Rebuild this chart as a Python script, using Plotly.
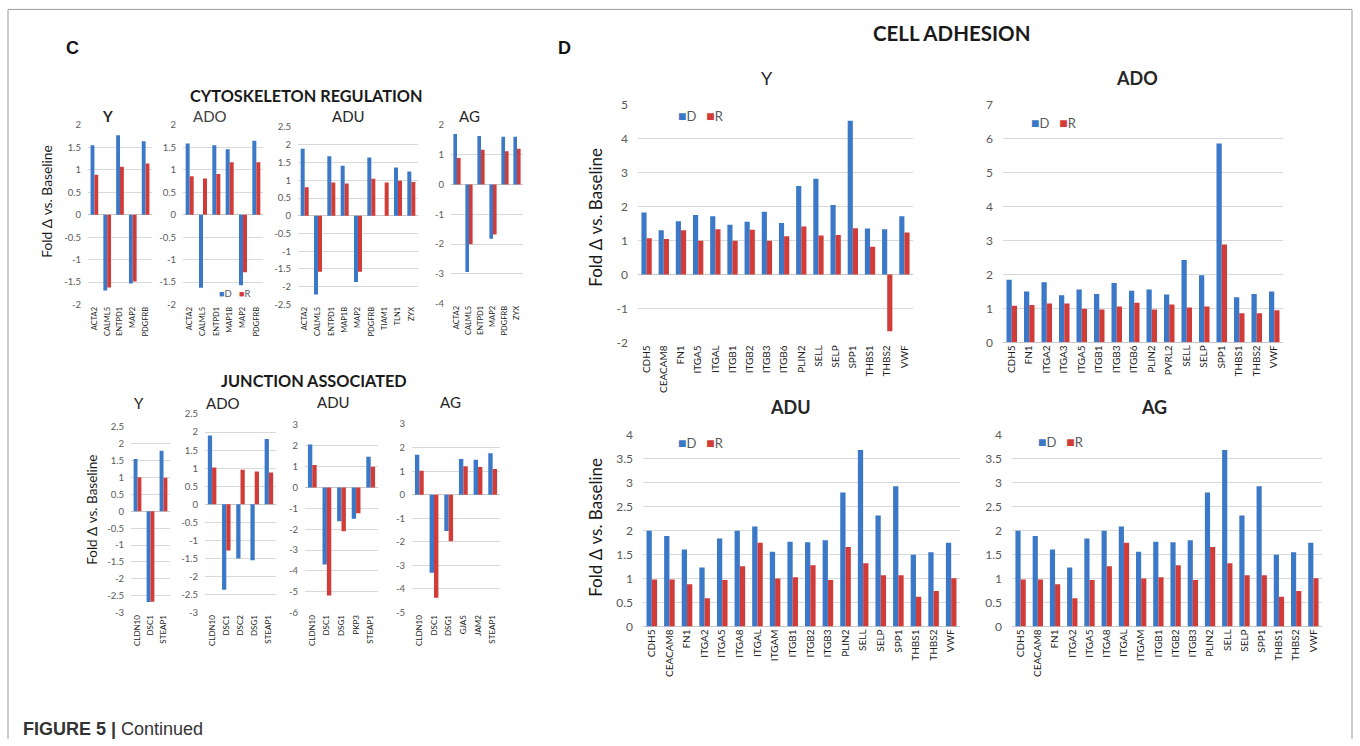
import plotly.graph_objects as go

W, H = 1360, 746
BLUE = "#3b78c8"
RED = "#d13c38"
FONT = "Lato, Carlito, Calibri, sans-serif"
ARIAL = "Liberation Sans, Arial, sans-serif"

# vertical calibration of the photographed page (measured on previous renders)
SY, OY = 0.983, 6.7


def Y(y):
    return y / SY - OY


# ---------------- Panel C: Cytoskeleton regulation ----------------
cyto_y_genes = ["ACTA2", "CALML5", "ENTPD1", "MAP2", "PDGFRB"]
cyto_y_D = [1.55, -1.69, 1.77, -1.53, 1.64]
cyto_y_R = [0.89, -1.62, 1.07, -1.49, 1.14]
cyto_y_ticks = [-2, -1.5, -1, -0.5, 0, 0.5, 1, 1.5, 2]

cyto_ado_genes = ["ACTA2", "CALML5", "ENTPD1", "MAP1B", "MAP2", "PDGFRB"]
cyto_ado_D = [1.59, -1.63, 1.55, 1.46, -1.57, 1.65]
cyto_ado_R = [0.86, 0.81, 0.91, 1.17, -1.28, 1.17]
cyto_ado_ticks = [-2, -1.5, -1, -0.5, 0, 0.5, 1, 1.5, 2]

cyto_adu_genes = ["ACTA2", "CALML5", "ENTPD1", "MAP1B", "MAP2", "PDGFRB", "TIAM1", "TLN1", "ZYX"]
cyto_adu_D = [1.89, -2.22, 1.68, 1.41, -1.87, 1.64, None, 1.36, 1.25]
cyto_adu_R = [0.80, -1.58, 0.94, 0.91, -1.58, 1.04, 0.94, 0.99, 0.95]
cyto_adu_ticks = [-2.5, -2, -1.5, -1, -0.5, 0, 0.5, 1, 1.5, 2, 2.5]

cyto_ag_genes = ["ACTA2", "CALML5", "ENTPD1", "MAP2", "PDGFRB", "ZYX"]
cyto_ag_D = [1.70, -2.94, 1.63, -1.82, 1.61, 1.61]
cyto_ag_R = [0.89, -2.01, 1.17, -1.68, 1.12, 1.20]
cyto_ag_ticks = [-4, -3, -2, -1, 0, 1, 2]

# ---------------- Panel C: Junction associated ----------------
junc_y_genes = ["CLDN10", "DSC1", "STEAP1"]
junc_y_D = [1.55, -2.69, 1.80]
junc_y_R = [1.01, -2.68, 1.00]
junc_y_ticks = [-3, -2.5, -2, -1.5, -1, -0.5, 0, 0.5, 1, 1.5, 2, 2.5]

junc_ado_genes = ["CLDN10", "DSC1", "DSC2", "DSG1", "STEAP1"]
junc_ado_D = [1.91, -2.37, -1.50, -1.55, 1.81]
junc_ado_R = [1.02, -1.28, 0.96, 0.91, 0.88]
junc_ado_ticks = [-3, -2.5, -2, -1.5, -1, -0.5, 0, 0.5, 1, 1.5, 2, 2.5]

junc_adu_genes = ["CLDN10", "DSC1", "DSG1", "PKP3", "STEAP1"]
junc_adu_D = [2.07, -3.69, -1.62, -1.50, 1.48]
junc_adu_R = [1.08, -5.18, -2.10, -1.23, 1.00]
junc_adu_ticks = [-6, -5, -4, -3, -2, -1, 0, 1, 2, 3]

junc_ag_genes = ["CLDN10", "DSC1", "DSG1", "GJA5", "JAM2", "STEAP1"]
junc_ag_D = [1.70, -3.31, -1.54, 1.52, 1.49, 1.76]
junc_ag_R = [1.02, -4.37, -1.97, 1.21, 1.18, 1.09]
junc_ag_ticks = [-5, -4, -3, -2, -1, 0, 1, 2, 3]

# ---------------- Panel D: Cell adhesion ----------------
adh_y_genes = ["CDH5", "CEACAM8", "FN1", "ITGA5", "ITGAL", "ITGB1", "ITGB2", "ITGB3",
               "ITGB6", "PLIN2", "SELL", "SELP", "SPP1", "THBS1", "THBS2", "VWF"]
adh_y_D = [1.83, 1.31, 1.57, 1.76, 1.72, 1.47, 1.56, 1.85, 1.52, 2.61, 2.83, 2.05, 4.54, 1.36, 1.34, 1.72]
adh_y_R = [1.07, 1.05, 1.31, 1.00, 1.34, 1.00, 1.32, 1.00, 1.13, 1.42, 1.15, 1.17, 1.37, 0.82, -1.67, 1.24]
adh_y_ticks = [-2, -1, 0, 1, 2, 3, 4, 5]

adh_ado_genes = ["CDH5", "FN1", "ITGA2", "ITGA3", "ITGA5", "ITGB1", "ITGB3", "ITGB6",
                 "PLIN2", "PVRL2", "SELL", "SELP", "SPP1", "THBS1", "THBS2", "VWF"]
adh_ado_D = [1.85, 1.50, 1.77, 1.39, 1.56, 1.43, 1.75, 1.52, 1.56, 1.41, 2.43, 1.98, 5.87, 1.33, 1.43, 1.50]
adh_ado_R = [1.08, 1.10, 1.15, 1.15, 0.99, 0.97, 1.06, 1.17, 0.97, 1.12, 1.03, 1.06, 2.89, 0.86, 0.86, 0.95]
adh_ado_ticks = [0, 1, 2, 3, 4, 5, 6, 7]

adh_adu_genes = ["CDH5", "CEACAM8", "FN1", "ITGA2", "ITGA5", "ITGA8", "ITGAL", "ITGAM", "ITGB1",
                 "ITGB2", "ITGB3", "PLIN2", "SELL", "SELP", "SPP1", "THBS1", "THBS2", "VWF"]
adh_adu_D = [2.00, 1.89, 1.61, 1.23, 1.84, 2.00, 2.09, 1.56, 1.77, 1.76, 1.80, 2.80, 3.69, 2.32, 2.93, 1.50, 1.55, 1.75]
adh_adu_R = [0.98, 0.98, 0.88, 0.59, 0.97, 1.26, 1.75, 1.00, 1.03, 1.28, 0.97, 1.66, 1.32, 1.07, 1.07, 0.62, 0.74, 1.01]
adh_adu_ticks = [0, 0.5, 1, 1.5, 2, 2.5, 3, 3.5, 4]

adh_ag_genes = ["CDH5", "CEACAM8", "FN1", "ITGA2", "ITGA5", "ITGA8", "ITGAL", "ITGAM", "ITGB1",
                "ITGB2", "ITGB3", "PLIN2", "SELL", "SELP", "SPP1", "THBS1", "THBS2", "VWF"]
adh_ag_D = [2.00, 1.89, 1.61, 1.23, 1.84, 2.00, 2.09, 1.56, 1.77, 1.76, 1.80, 2.80, 3.69, 2.32, 2.93, 1.50, 1.55, 1.75]
adh_ag_R = [0.98, 0.98, 0.88, 0.59, 0.97, 1.26, 1.75, 1.00, 1.03, 1.28, 0.97, 1.66, 1.32, 1.07, 1.07, 0.62, 0.74, 1.01]
adh_ag_ticks = [0, 0.5, 1, 1.5, 2, 2.5, 3, 3.5, 4]

# panel layout: (genes, D, R, ticks, x-pixels, y-pixels, category font, tick font, standoff)
panels = [
    (cyto_y_genes, cyto_y_D, cyto_y_R, cyto_y_ticks, (88, 152), (124, 304), 7.5, 9.5, 6),
    (cyto_ado_genes, cyto_ado_D, cyto_ado_R, cyto_ado_ticks, (183, 263), (124, 304), 7.5, 9.5, 6),
    (cyto_adu_genes, cyto_adu_D, cyto_adu_R, cyto_adu_ticks, (298, 418), (126, 304), 7.5, 9.5, 6),
    (cyto_ag_genes, cyto_ag_D, cyto_ag_R, cyto_ag_ticks, (451, 523), (124, 303), 7.5, 9.5, 6),
    (junc_y_genes, junc_y_D, junc_y_R, junc_y_ticks, (131, 170), (427, 613), 8, 9.5, 6),
    (junc_ado_genes, junc_ado_D, junc_ado_R, junc_ado_ticks, (205, 276), (414, 613), 8, 9.5, 6),
    (junc_adu_genes, junc_adu_D, junc_adu_R, junc_adu_ticks, (305, 378), (425, 613), 8, 9.5, 6),
    (junc_ag_genes, junc_ag_D, junc_ag_R, junc_ag_ticks, (412, 500), (424, 613), 8, 9.5, 6),
    (adh_y_genes, adh_y_D, adh_y_R, adh_y_ticks, (638, 913), (104, 342), 10, 12, 9),
    (adh_ado_genes, adh_ado_D, adh_ado_R, adh_ado_ticks, (1003, 1283), (104, 342), 10, 12, 9),
    (adh_adu_genes, adh_adu_D, adh_adu_R, adh_adu_ticks, (643, 960), (435, 627), 10, 12, 9),
    (adh_ag_genes, adh_ag_D, adh_ag_R, adh_ag_ticks, (1012, 1322), (435, 627), 10, 12, 9),
]

fig = go.Figure()
layout = {}
for i, (genes, dv, rv, ticks, (x0, x1), (y0, y1), cfs, tfs, stand) in enumerate(panels, start=1):
    xa = "x" if i == 1 else f"x{i}"
    ya = "y" if i == 1 else f"y{i}"
    fig.add_trace(go.Bar(x=genes, y=dv, name="D", marker_color=BLUE, marker_line_width=0,
                         xaxis=xa, yaxis=ya, showlegend=False))
    fig.add_trace(go.Bar(x=genes, y=rv, name="R", marker_color=RED, marker_line_width=0,
                         xaxis=xa, yaxis=ya, showlegend=False))
    xk = "xaxis" if i == 1 else f"xaxis{i}"
    yk = "yaxis" if i == 1 else f"yaxis{i}"
    layout[xk] = dict(domain=[x0 / W, x1 / W], anchor=ya, type="category",
                      tickangle=-90, tickfont=dict(family=FONT, size=cfs, color="#1a1a1a"),
                      showgrid=False, showline=False, zeroline=False, ticks="",
                      fixedrange=True)
    layout[yk] = dict(domain=[1 - Y(y1) / H, 1 - Y(y0) / H], anchor=xa,
                      range=[ticks[0], ticks[-1]], tickmode="array", tickvals=ticks,
                      ticktext=[f"{t:g}" for t in ticks],
                      tickfont=dict(family=FONT, size=tfs, color="#595959"),
                      showgrid=True, gridcolor="#d9d9d9", gridwidth=1,
                      zeroline=True, zerolinecolor="#c8c8c8", zerolinewidth=1,
                      showline=False, ticks="", ticklabelstandoff=stand, fixedrange=True)

fig.update_layout(**layout)

ann = []


def add_text(txt, x, y, size, bold=False, family=FONT, color="#1a1a1a", xanchor="center",
             angle=0):
    ann.append(dict(text=f"<b>{txt}</b>" if bold else txt, x=x / W, y=1 - Y(y) / H,
                    xref="paper", yref="paper", showarrow=False, xanchor=xanchor,
                    yanchor="middle", textangle=angle,
                    font=dict(family=family, size=size, color=color)))


# panel letters and headers
add_text("C", 72, 47, 18, bold=True, family=ARIAL, color="#111")
add_text("D", 564, 47, 18, bold=True, family=ARIAL, color="#111")
add_text("CELL ADHESION", 951, 32, 20.5, bold=True)
add_text("CYTOSKELETON REGULATION", 306, 94, 16.3, bold=True)
add_text("JUNCTION ASSOCIATED", 314, 380, 16.3, bold=True)

# subplot titles
add_text("Y", 107, 115, 15, bold=True, color="#262626")
add_text("ADO", 210, 115, 15, color="#404040")
add_text("ADU", 348, 115, 15, color="#262626")
add_text("AG", 469, 115, 15, color="#262626")
add_text("Y", 139, 403, 15, color="#262626")
add_text("ADO", 223, 403, 15, color="#262626")
add_text("ADU", 333, 402, 15, color="#262626")
add_text("AG", 450, 402, 15, color="#262626")
add_text("Y", 767, 77, 18, color="#262626")
add_text("ADO", 1137, 77, 18, bold=True, color="#262626")
add_text("ADU", 790, 407, 18, bold=True, color="#262626")
add_text("AG", 1154, 407, 18, bold=True, color="#262626")

# y-axis titles
ytitle = "Fold \u0394 vs. Baseline"
add_text(ytitle, 47, 201, 13.8, color="#1a1a1a", angle=-90)
add_text(ytitle, 92, 510, 13.5, color="#1a1a1a", angle=-90)
add_text(ytitle, 596, 217, 17, color="#1a1a1a", angle=-90)
add_text(ytitle, 596, 528, 17, color="#1a1a1a", angle=-90)


# legends
def legend_text(sq, txt):
    return (f"<span style='color:{BLUE};font-size:{sq}px'>\u25a0</span>D&nbsp;&nbsp;&nbsp;"
            f"<span style='color:{RED};font-size:{sq}px'>\u25a0</span>R")


add_text(legend_text(9, 9.5), 217, 293, 9.5, color="#595959", xanchor="left")
for lx, ly in [(676, 114), (1029, 121), (676, 442), (1036, 441)]:
    add_text(legend_text(14, 13), lx, ly, 13, color="#595959", xanchor="left")

# caption
add_text("<b>FIGURE 5 |</b> Continued", 21, 730, 18, family=ARIAL, color="#333333",
         xanchor="left")

shapes = [
    dict(type="line", xref="paper", yref="paper", x0=8 / W, x1=8 / W, y0=0,
         y1=1 - Y(8) / H, line=dict(color="#9a9a9a", width=1)),
    dict(type="line", xref="paper", yref="paper", x0=8 / W, x1=1352 / W, y0=1 - Y(8) / H,
         y1=1 - Y(8) / H, line=dict(color="#9a9a9a", width=1)),
    dict(type="line", xref="paper", yref="paper", x0=1352 / W, x1=1352 / W, y0=0,
         y1=1 - Y(8) / H, line=dict(color="#9a9a9a", width=1)),
]

fig.update_layout(
    width=W, height=H, margin=dict(l=0, r=0, t=0, b=0),
    paper_bgcolor="white", plot_bgcolor="white",
    barmode="group", bargap=0.4, bargroupgap=0.0,
    annotations=ann, shapes=shapes, showlegend=False,
    font=dict(family=FONT),
)

POST = (
    "var gd=document.getElementById('{plot_id}');"
    "document.documentElement.style.cssText='margin:0;padding:0;overflow:hidden;height:746px;';"
    "document.body.style.cssText='margin:0;padding:0;overflow:hidden;height:746px;width:1360px;position:relative;';"
    "gd.style.position='absolute';gd.style.top='0px';gd.style.left='0px';"
)

fig.write_html("out.html", config={"displayModeBar": False, "staticPlot": True},
               post_script=POST)
